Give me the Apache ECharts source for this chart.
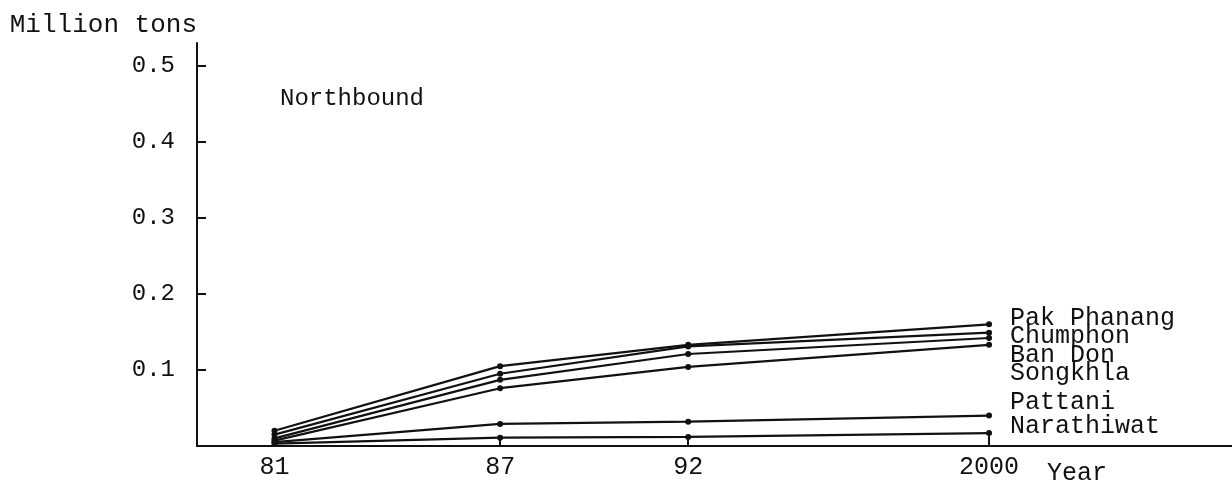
<!DOCTYPE html>
<html>
<head>
<meta charset="utf-8">
<title>Northbound</title>
<script src="https://cdn.jsdelivr.net/npm/echarts@6/dist/echarts.min.js"></script>
<style>
  html, body { margin: 0; padding: 0; background: #fff; }
  #chart { width: 1232px; height: 484px; }
</style>
</head>
<body>
<div id="chart"></div>
<script>
const years = [1981, 1987, 1992, 2000];
const xTickLabels = ['81', '87', '92', '2000'];
const yTickValues = [0.1, 0.2, 0.3, 0.4, 0.5];

const ports = ['Pak Phanang', 'Chumphon', 'Ban Don', 'Songkhla', 'Pattani', 'Narathiwat'];
const pakPhanang = [0.020, 0.105, 0.133, 0.160];
const chumphon = [0.015, 0.095, 0.131, 0.149];
const banDon = [0.010, 0.087, 0.121, 0.142];
const songkhla = [0.007, 0.076, 0.104, 0.133];
const pattani = [0.005, 0.029, 0.032, 0.040];
const narathiwat = [0.003, 0.011, 0.012, 0.017];

const portValues = [pakPhanang, chumphon, banDon, songkhla, pattani, narathiwat];

// vertical nudge of the right-hand names so they stack like the original
const labelNudge = [-6, 4, 17, 29, -13, -7];

const font = '"Liberation Mono", "Courier New", monospace';
const ink = '#111';

const chart = echarts.init(document.getElementById('chart'));

const series = ports.map((name, i) => ({
  name: name,
  type: 'line',
  data: years.map((y, j) => [y, portValues[i][j]]),
  symbol: 'circle',
  symbolSize: 6,
  lineStyle: { color: ink, width: 2.2 },
  itemStyle: { color: ink },
  endLabel: {
    show: true,
    formatter: '{a}',
    offset: [13, labelNudge[i]],
    color: ink,
    fontFamily: font,
    fontSize: 25
  },
  animation: false
}));

const option = {
  backgroundColor: '#fff',
  animation: false,
  title: {
    text: 'Northbound',
    left: 280,
    top: 87,
    padding: 0,
    textStyle: { color: ink, fontFamily: font, fontSize: 24, fontWeight: 'normal' }
  },
  grid: { left: 197, right: 0, top: 43, bottom: 38 },
  xAxis: {
    type: 'value',
    min: 1978.94,
    max: 2006.46,
    splitLine: { show: false },
    axisLine: { lineStyle: { color: ink, width: 2 } },
    axisTick: { inside: true, length: 10, customValues: years, lineStyle: { color: ink, width: 2 } },
    axisLabel: {
      customValues: years,
      formatter: (v) => xTickLabels[years.indexOf(v)] ?? '',
      color: ink,
      fontFamily: font,
      fontSize: 25,
      margin: 9
    }
  },
  yAxis: {
    type: 'value',
    min: 0,
    max: 0.53,
    name: 'Million tons',
    nameLocation: 'end',
    nameGap: 5,
    nameTextStyle: { color: ink, fontFamily: font, fontSize: 26, align: 'right', verticalAlign: 'bottom' },
    splitLine: { show: false },
    axisLine: { lineStyle: { color: ink, width: 2 } },
    axisTick: { inside: true, length: 9, customValues: yTickValues, lineStyle: { color: ink, width: 2 } },
    axisLabel: {
      customValues: yTickValues,
      formatter: (v) => v.toFixed(1),
      color: ink,
      fontFamily: font,
      fontSize: 24,
      margin: 22
    }
  },
  graphic: [
    {
      type: 'text',
      left: 1047,
      top: 461,
      style: { text: 'Year', fill: ink, font: '25px ' + font }
    }
  ],
  series: series
};

chart.setOption(option);
window.addEventListener('resize', () => chart.resize());
</script>
</body>
</html>
